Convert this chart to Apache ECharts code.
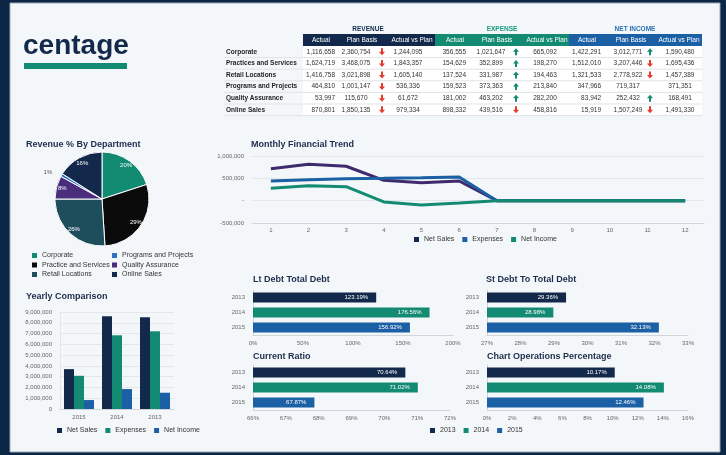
<!DOCTYPE html>
<html>
<head>
<meta charset="utf-8">
<script src="https://cdn.jsdelivr.net/npm/echarts@6/dist/echarts.min.js"></script>
<style>
html, body { margin: 0; padding: 0; background: #0c2746; }
#main { width: 726px; height: 455px; }
</style>
</head>
<body>
<div id="main"></div>
<script>
var NAVY = '#13294b', GREEN = '#138a72', BLUE = '#1b5fa5', PURPLE = '#3f2a6e', RED = '#e33a2c';
var FONT = '"Liberation Sans", Arial, sans-serif';

// summary table
var departments = ['Corporate', 'Practices and Services', 'Retail Locations', 'Programs and Projects', 'Quality Assurance', 'Online Sales'];
var revenueActual = [1116658, 1624719, 1416758, 464810, 53997, 870801];
var revenuePlan = [2360754, 3468075, 3021898, 1001147, 115670, 1850135];
var revenueVsPlan = [1244095, 1843357, 1605140, 536336, 61672, 979334];
var revenueArrow = ['down', 'down', 'down', 'down', 'down', 'down'];
var expenseActual = [356555, 154629, 137524, 159523, 181002, 898332];
var expensePlan = [1021647, 352899, 331987, 373363, 463202, 439516];
var expenseVsPlan = [665092, 198270, 194463, 213840, 282200, 458816];
var expenseArrow = ['up', 'up', 'up', 'up', 'up', 'down'];
var incomeActual = [1422291, 1512010, 1321533, 347966, 83942, 15919];
var incomePlan = [3012771, 3207446, 2778922, 719317, 252432, 1507249];
var incomeVsPlan = [1590480, 1695436, 1457389, 371351, 168491, 1491330];
var incomeArrow = ['up', 'down', 'down', '', 'up', 'down'];

// revenue by department (pie, clockwise from 12 o'clock)
var pieNames = ['Corporate', 'Practice and Services', 'Retail Locations', 'Quality Assurance', 'Programs and Projects', 'Online Sales'];
var pieShares = [20, 29, 26, 8, 1, 16];
var pieColors = [GREEN, '#0b0b0b', '#1e4d5c', '#4a2d7c', '#2a74c0', NAVY];

// monthly trend
var months = ['1', '2', '3', '4', '5', '6', '7', '8', '9', '10', '11', '12'];
var trendNetSales = [717000, 814000, 770000, 455000, 403000, 441000, 0, 0, 0, 0, 0, 0];
var trendExpenses = [441000, 468000, 488000, 500000, 515000, 531000, 0, 0, 0, 0, 0, 0];
var trendNetIncome = [276000, 336000, 314000, -29000, -97000, -52000, 0, 0, 0, 0, 0, 0];

// yearly comparison
var years = ['2015', '2014', '2013'];
var yearNetSales = [3700000, 8600000, 8510000];
var yearExpenses = [3080000, 6840000, 7210000];
var yearNetIncome = [830000, 1850000, 1510000];

// ratios
var ratioYears = ['2013', '2014', '2015'];
var ratioColors = [NAVY, GREEN, BLUE];
var ltDebt = [123.19, 176.56, 156.92];
var stDebt = [29.36, 28.98, 32.13];
var currentRatio = [70.64, 71.02, 67.87];
var operationsPct = [10.17, 14.08, 12.46];

function fmt(n) { return n.toLocaleString('en-US'); }

// ---- table as graphic elements ----
var tbl = [];
var rowTop = 46, rowH = 11.6, tblLeft = 224, dataLeft = 303, tblRight = 702;
tbl.push({ type: 'rect', shape: { x: dataLeft, y: rowTop, width: tblRight - dataLeft, height: rowH * 6 }, style: { fill: '#ffffff' } });
var groups = [
    { name: 'REVENUE', x0: 303, x1: 435, color: NAVY, txt: NAVY, tx: 368 },
    { name: 'EXPENSE', x0: 435, x1: 569, color: GREEN, txt: '#1a9a80', tx: 502 },
    { name: 'NET INCOME', x0: 569, x1: 702, color: BLUE, txt: '#2a6fb8', tx: 635 }
];
groups.forEach(function (g) {
    tbl.push({ type: 'rect', shape: { x: g.x0, y: 34, width: g.x1 - g.x0, height: 12 }, style: { fill: g.color } });
    tbl.push({ type: 'text', x: g.tx, y: 29, style: { text: g.name, fill: g.txt, font: 'bold 6.5px ' + FONT, align: 'center', verticalAlign: 'middle' } });
});
var subHeads = ['Actual', 'Plan Basis', 'Actual vs Plan'];
[321, 362, 412, 455, 497, 547, 587, 631, 679].forEach(function (x, i) {
    tbl.push({ type: 'text', x: x, y: 40, style: { text: subHeads[i % 3], fill: '#ffffff', font: '6.5px ' + FONT, align: 'center', verticalAlign: 'middle' } });
});
var cols = [
    { vals: revenueActual, x: 335, align: 'right' },
    { vals: revenuePlan, x: 356, align: 'center', arrow: revenueArrow, ax: 382 },
    { vals: revenueVsPlan, x: 408, align: 'center' },
    { vals: expenseActual, x: 466, align: 'right' },
    { vals: expensePlan, x: 491, align: 'center', arrow: expenseArrow, ax: 516 },
    { vals: expenseVsPlan, x: 545, align: 'center' },
    { vals: incomeActual, x: 601, align: 'right' },
    { vals: incomePlan, x: 628, align: 'center', arrow: incomeArrow, ax: 650 },
    { vals: incomeVsPlan, x: 680, align: 'center' }
];
function arrowPts(cx, cy, dir) {
    var s = dir === 'up' ? -1 : 1;
    return [[cx - 1, cy - 3.5 * s], [cx + 1, cy - 3.5 * s], [cx + 1, cy], [cx + 3, cy], [cx, cy + 3.5 * s], [cx - 3, cy], [cx - 1, cy]];
}
departments.forEach(function (d, r) {
    var cy = rowTop + rowH * r + rowH / 2;
    tbl.push({ type: 'text', x: 226, y: cy, style: { text: d, fill: '#1e1e1e', font: 'bold 6.5px ' + FONT, align: 'left', verticalAlign: 'middle' } });
    cols.forEach(function (c) {
        tbl.push({ type: 'text', x: c.x, y: cy, style: { text: fmt(c.vals[r]), fill: '#333333', font: '6.5px ' + FONT, align: c.align, verticalAlign: 'middle' } });
        if (c.arrow && c.arrow[r]) {
            tbl.push({ type: 'polygon', shape: { points: arrowPts(c.ax, cy, c.arrow[r]) }, style: { fill: c.arrow[r] === 'up' ? GREEN : RED } });
        }
    });
    tbl.push({ type: 'line', shape: { x1: tblLeft, y1: rowTop + rowH * (r + 1), x2: tblRight, y2: rowTop + rowH * (r + 1) }, style: { stroke: '#dfe4e8', lineWidth: 1 } });
});

// ---- chart ----
var axisLbl = { fontSize: 6, color: '#666666', fontFamily: FONT };
var split = { lineStyle: { color: '#e3e7ea' } };
var axLine = { lineStyle: { color: '#cfd5da' } };

var grids = [
    { left: 252, top: 156, width: 452, height: 67 },   // trend
    { left: 60, top: 312, width: 114, height: 97 },    // yearly
    { left: 253, top: 290, width: 200, height: 45 },   // lt debt
    { left: 487, top: 290, width: 201, height: 45 },   // st debt
    { left: 253, top: 365, width: 197, height: 45 },   // current ratio
    { left: 487, top: 365, width: 201, height: 45 }    // operations
];
var ratioSets = [
    { data: ltDebt, min: 0, max: 200, interval: 50 },
    { data: stDebt, min: 27, max: 33, interval: 1 },
    { data: currentRatio, min: 66, max: 72, interval: 1 },
    { data: operationsPct, min: 0, max: 16, interval: 2 }
];

var xAxes = [
    { gridIndex: 0, type: 'category', data: months, axisLine: { onZero: false, lineStyle: { color: '#cfd5da' } }, axisTick: { show: false }, axisLabel: Object.assign({ margin: 4 }, axisLbl) },
    { gridIndex: 1, type: 'category', data: years, axisLine: axLine, axisTick: { show: false }, axisLabel: Object.assign({ margin: 5 }, axisLbl) }
];
var yAxes = [
    { gridIndex: 0, type: 'value', min: -500000, max: 1000000, interval: 500000, axisLabel: Object.assign({ formatter: function (v) { return v === 0 ? '-' : fmt(v); } }, axisLbl), splitLine: split },
    { gridIndex: 1, type: 'value', min: 0, max: 9000000, interval: 1000000, axisLine: { show: true, lineStyle: { color: '#e3e7ea' } }, axisLabel: Object.assign({ formatter: function (v) { return fmt(v); } }, axisLbl), splitLine: split }
];
var series = [
    { name: 'Net Sales', type: 'line', xAxisIndex: 0, yAxisIndex: 0, data: trendNetSales, symbol: 'none', lineStyle: { width: 3, color: PURPLE }, itemStyle: { color: NAVY } },
    { name: 'Expenses', type: 'line', xAxisIndex: 0, yAxisIndex: 0, data: trendExpenses, symbol: 'none', lineStyle: { width: 3, color: BLUE }, itemStyle: { color: BLUE } },
    { name: 'Net Income', type: 'line', xAxisIndex: 0, yAxisIndex: 0, data: trendNetIncome, symbol: 'none', lineStyle: { width: 3, color: GREEN }, itemStyle: { color: GREEN } },
    { name: 'Net Sales', type: 'bar', xAxisIndex: 1, yAxisIndex: 1, data: yearNetSales, barWidth: 10, barGap: '0%', itemStyle: { color: NAVY } },
    { name: 'Expenses', type: 'bar', xAxisIndex: 1, yAxisIndex: 1, data: yearExpenses, barWidth: 10, barGap: '0%', itemStyle: { color: GREEN } },
    { name: 'Net Income', type: 'bar', xAxisIndex: 1, yAxisIndex: 1, data: yearNetIncome, barWidth: 10, barGap: '0%', itemStyle: { color: BLUE } }
];

ratioSets.forEach(function (rs, k) {
    var gi = k + 2;
    xAxes.push({ gridIndex: gi, type: 'value', min: rs.min, max: rs.max, interval: rs.interval, axisLine: { show: true, lineStyle: { color: '#cfd5da' } }, axisTick: { show: false }, splitLine: { show: false }, axisLabel: Object.assign({ formatter: '{value}%', margin: 5 }, axisLbl) });
    yAxes.push({ gridIndex: gi, type: 'category', inverse: true, data: ratioYears, axisLine: { lineStyle: { color: '#cfd5da' } }, axisTick: { show: false }, axisLabel: axisLbl });
    ratioYears.forEach(function (yr, i) {
        var d = rs.data.map(function (v, j) { return j === i ? v : null; });
        series.push({
            name: yr, type: 'bar', xAxisIndex: gi, yAxisIndex: gi, stack: 'r' + k, data: d, barWidth: 10,
            itemStyle: { color: ratioColors[i] },
            label: { show: true, position: 'insideRight', distance: 8, color: '#ffffff', fontSize: 6, formatter: '{c}%' }
        });
    });
});

var pieData = pieNames.map(function (n, i) { return { name: n, value: pieShares[i], itemStyle: { color: pieColors[i] } }; });
series.push({
    type: 'pie', name: 'Revenue', center: [102, 199], radius: 47, startAngle: 90, data: pieData,
    itemStyle: { borderColor: '#ffffff', borderWidth: 1 }, label: { show: false }, labelLine: { show: false }
});
series.push({
    type: 'pie', name: 'Revenue labels', center: [102, 199], radius: [29, 47], startAngle: 90, silent: true,
    data: pieNames.map(function (n, i) {
        var item = { name: n, value: pieShares[i], itemStyle: { color: 'rgba(0,0,0,0)' } };
        if (pieShares[i] < 2) item.label = { position: 'outside', color: '#555555' };
        return item;
    }),
    label: { show: true, position: 'inside', color: '#ffffff', fontSize: 6, formatter: '{c}%' },
    labelLine: { show: false, length: 5, length2: 0 }
});

var legendText = { fontSize: 7, color: '#333333', fontFamily: FONT };
var titleStyle = { fontSize: 9, fontWeight: 'bold', color: '#1c2d4c', fontFamily: FONT };
function title(text, left, top) { return { text: text, left: left, top: top, padding: 0, textStyle: titleStyle }; }
function legend(data, left, top, extra) {
    return Object.assign({
        data: data, left: left, top: top, padding: 0, itemGap: 8, itemWidth: 5, itemHeight: 5, icon: 'rect',
        itemStyle: { borderWidth: 0 }, textStyle: legendText, selectedMode: false
    }, extra || {});
}
var pieColorOf = function (n) { return { name: n, itemStyle: { color: pieColors[pieNames.indexOf(n)], borderWidth: 0 } }; };

var option = {
    backgroundColor: '#0c2746',
    animation: false,
    textStyle: { fontFamily: FONT },
    title: [
        title('Revenue % By Department', 26, 140),
        title('Monthly Financial Trend', 251, 140),
        title('Yearly Comparison', 26, 292),
        title('Lt Debt Total Debt', 253, 275),
        title('St Debt To Total Debt', 486, 275),
        title('Current Ratio', 253, 352),
        title('Chart Operations Percentage', 487, 352)
    ],
    legend: [
        legend(['Corporate', 'Practice and Services', 'Retail Locations'].map(pieColorOf), 32, 252, { orient: 'vertical', itemGap: 2.5 }),
        legend(['Programs and Projects', 'Quality Assurance', 'Online Sales'].map(pieColorOf), 112, 252, { orient: 'vertical', itemGap: 2.5 }),
        legend([{ name: 'Net Sales', itemStyle: { color: NAVY } }, { name: 'Expenses', itemStyle: { color: BLUE } }, { name: 'Net Income', itemStyle: { color: GREEN } }], 414, 236),
        legend([{ name: 'Net Sales', itemStyle: { color: NAVY } }, { name: 'Expenses', itemStyle: { color: GREEN } }, { name: 'Net Income', itemStyle: { color: BLUE } }], 57, 427),
        legend(ratioYears, 430, 427)
    ],
    grid: grids,
    xAxis: xAxes,
    yAxis: yAxes,
    series: series,
    graphic: [
        { type: 'rect', z: -10, shape: { x: 10, y: 3, width: 710, height: 449 }, style: { fill: '#f4f7f9', stroke: '#9aa8b6', lineWidth: 1 } },
        { type: 'text', x: 23, y: 46, style: { text: 'centage', fill: NAVY, font: 'bold 28px ' + FONT, align: 'left', verticalAlign: 'middle' } },
        { type: 'rect', shape: { x: 24, y: 63, width: 103, height: 6 }, style: { fill: GREEN } },
        { type: 'group', children: tbl }
    ]
};

var myChart = echarts.init(document.getElementById('main'));
myChart.setOption(option);
</script>
</body>
</html>
